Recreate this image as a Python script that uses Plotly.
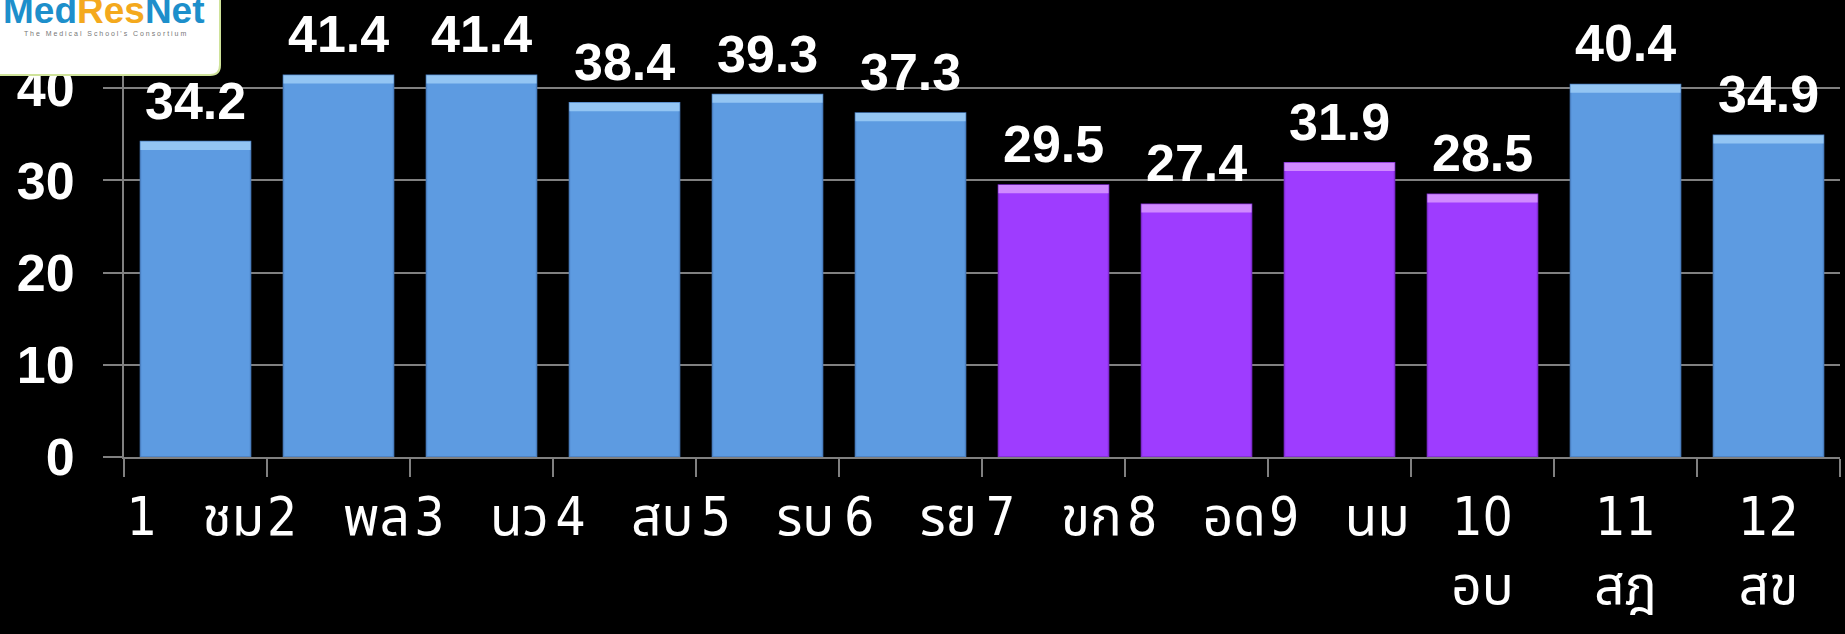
import plotly.graph_objects as go

categories = ["1   ชม", "2   พล", "3   นว", "4   สบ", "5   รบ", "6   รย", "7   ขก",
              "8   อด", "9   นม", "10<br>อบ", "11<br>สฎ", "12<br>สข"]
values = [34.2, 41.4, 41.4, 38.4, 39.3, 37.3, 29.5, 27.4, 31.9, 28.5, 40.4, 34.9]
groups = ["b", "b", "b", "b", "b", "b", "p", "p", "p", "p", "b", "b"]
y_ticks = [0, 10, 20, 30, 40]

BLUE, BLUE_TOP, BLUE_EDGE = "#5d9be1", "#93c5f3", "#4a7fc0"
PURP, PURP_TOP, PURP_EDGE = "#9e3cff", "#d08aff", "#7f2bd0"
main_col = [BLUE if g == "b" else PURP for g in groups]
top_col = [BLUE_TOP if g == "b" else PURP_TOP for g in groups]
edge_col = [BLUE_EDGE if g == "b" else PURP_EDGE for g in groups]
bevel = 0.9

W, H = 1845, 634
L, R, T, B = 124, 5, 42, 177

fig = go.Figure()
fig.add_trace(go.Bar(x=categories, y=values, marker=dict(color=main_col, line=dict(color=edge_col, width=1.5)),
                     hoverinfo="skip", showlegend=False))
fig.add_trace(go.Bar(x=categories, y=[bevel] * len(values), base=[v - bevel for v in values],
                     marker=dict(color=top_col, line=dict(width=0)), hoverinfo="skip", showlegend=False))

annotations = []
for c, v in zip(categories, values):
    annotations.append(dict(x=c, y=v, xref="x", yref="y", text=f"{v:.1f}", showarrow=False,
                            yanchor="bottom", yshift=10,
                            font=dict(family="Liberation Sans, Arial", size=52, color="white", weight="bold")))

def px_x(p):
    return (p - L) / (W - L - R)

def px_y(p):
    return (H - B - p) / (H - T - B)

shapes = [dict(type="path", xref="paper", yref="paper",
               path=f"M {px_x(-2)},{px_y(-5)} L {px_x(220)},{px_y(-5)} L {px_x(220)},{px_y(65)} "
                    f"Q {px_x(220)},{px_y(75)} {px_x(210)},{px_y(75)} L {px_x(-2)},{px_y(75)} Z",
               fillcolor="white", line=dict(color="#cfe39a", width=2), layer="above")]
annotations.append(dict(xref="paper", yref="paper", x=px_x(104), y=px_y(33), xanchor="center", yanchor="bottom",
                        showarrow=False,
                        text="<span style='color:#1d8fcb'>Med</span><span style='color:#f4a91d'>Res</span>"
                             "<span style='color:#1d8fcb'>Net</span>",
                        font=dict(family="Liberation Sans, Arial", size=37, weight="bold")))
annotations.append(dict(xref="paper", yref="paper", x=px_x(105), y=px_y(33), xanchor="center", yanchor="middle",
                        showarrow=False, text="T h e   M e d i c a l   S c h o o l ' s   C o n s o r t i u m",
                        font=dict(family="Liberation Sans, Arial", size=7, color="#777777")))

fig.update_layout(
    width=W, height=H, paper_bgcolor="black", plot_bgcolor="black",
    margin=dict(l=L, r=R, t=T, b=B, autoexpand=False), barmode="overlay", bargap=0.23,
    shapes=shapes, annotations=annotations,
    xaxis=dict(type="category", automargin=False, tickangle=0,
               showgrid=False, showline=True, linecolor="#808080", linewidth=2,
               ticks="outside", tickson="boundaries", ticklen=18, tickwidth=2, tickcolor="#808080",
               ticklabelstandoff=12,
               tickfont=dict(family="Liberation Sans Narrow, DejaVu Sans Condensed, Noto Sans Thai, Noto Sans",
                             size=53, color="white")),
    yaxis=dict(range=[0, 45], tickvals=y_ticks, showgrid=True, gridcolor="#808080", gridwidth=2,
               automargin=False,
               showline=True, linecolor="#808080", linewidth=2, zeroline=False,
               ticks="outside", ticklen=19, tickwidth=2, tickcolor="#808080", ticklabelstandoff=18,
               tickfont=dict(family="Liberation Sans, Arial", size=52, color="white", weight="bold")),
)
fig.write_html("out.html")
